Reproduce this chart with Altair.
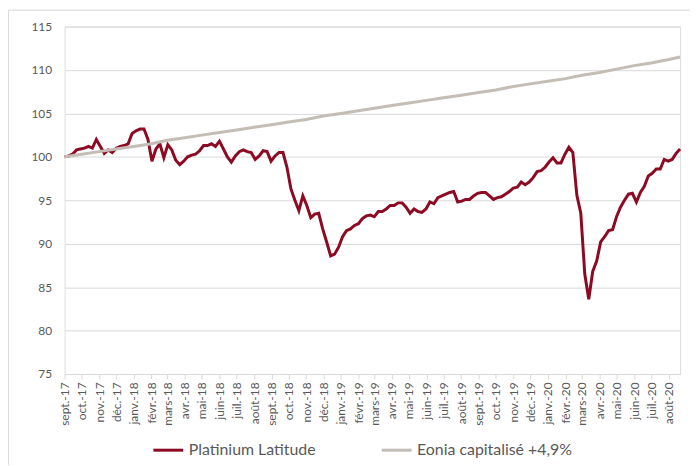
import altair as alt
import pandas as pd

# ---- data ----
platinium_start = "2017-09-01"   # weekly observations
platinium_values = [
    100.0, 100.1, 100.3, 100.8, 100.9, 101.0, 101.2, 101.0, 102.0, 101.2,
    100.4, 100.8, 100.5, 101.0, 101.2, 101.3, 101.5, 102.7, 103.0, 103.2,
    103.2, 102.0, 99.5, 100.9, 101.5, 99.9, 101.4, 100.8, 99.6, 99.1,
    99.5, 100.0, 100.2, 100.3, 100.7, 101.3, 101.3, 101.5, 101.2, 101.8,
    100.9, 100.0, 99.4, 100.1, 100.6, 100.8, 100.6, 100.5, 99.7, 100.1,
    100.7, 100.6, 99.5, 100.1, 100.5, 100.5, 98.8, 96.3, 95.0, 93.8,
    95.5, 94.4, 93.0, 93.4, 93.5, 91.7, 90.2, 88.6, 88.8, 89.6,
    90.8, 91.5, 91.7, 92.1, 92.3, 92.9, 93.2, 93.3, 93.1, 93.7,
    93.7, 94.0, 94.4, 94.4, 94.7, 94.7, 94.2, 93.5, 94.0, 93.7,
    93.6, 94.0, 94.8, 94.6, 95.3, 95.5, 95.7, 95.9, 96.0, 94.8,
    94.9, 95.1, 95.1, 95.5, 95.8, 95.9, 95.9, 95.5, 95.1, 95.3,
    95.4, 95.7, 96.0, 96.4, 96.5, 97.1, 96.8, 97.1, 97.6, 98.3,
    98.4, 98.8, 99.4, 99.9, 99.3, 99.3, 100.3, 101.1, 100.5, 95.6,
    93.5, 86.5, 83.6, 86.8, 88.0, 90.2, 90.8, 91.5, 91.6, 93.1,
    94.2, 95.0, 95.7, 95.8, 94.8, 95.9, 96.6, 97.8, 98.1, 98.6,
    98.6, 99.7, 99.5, 99.7, 100.4, 100.9,
]

eonia_dates = [d.strftime("%Y-%m-%d") for d in pd.date_range("2017-09-01", "2020-08-01", freq="MS")] + ["2020-08-21"]
eonia_values = [
    100.0, 100.3, 100.6, 100.9, 101.2, 101.5, 101.9, 102.2, 102.5, 102.8,
    103.1, 103.4, 103.7, 104.0, 104.3, 104.7, 105.0, 105.3, 105.6, 105.9,
    106.2, 106.5, 106.8, 107.1, 107.4, 107.7, 108.1, 108.4, 108.7, 109.0,
    109.4, 109.7, 110.1, 110.5, 110.8, 111.2, 111.5,
]

series_names = ["Platinium Latitude", "Eonia capitalisé +4,9%"]
series_colors = ["#8C0B22", "#C3BDB6"]
month_labels = ["janv.", "févr.", "mars", "avr.", "mai", "juin",
                "juil.", "août", "sept.", "oct.", "nov.", "déc."]
y_ticks = [75, 80, 85, 90, 95, 100, 105, 110, 115]

# ---- tables ----
plat_dates = pd.date_range(platinium_start, periods=len(platinium_values), freq="7D")
df_plat = pd.DataFrame({"date": plat_dates, "value": platinium_values, "series": series_names[0]})
df_eonia = pd.DataFrame({"date": pd.to_datetime(eonia_dates), "value": eonia_values, "series": series_names[1]})

FONT = "Lato"
GRID = "#D9D9D9"
TXT = "#595959"

label_expr = ("[" + ",".join("'" + m + "'" for m in month_labels) + "][month(datum.value)]"
              " + '-' + timeFormat(datum.value, '%y')")

x_enc = alt.X(
    "date:T",
    scale=alt.Scale(domain=[plat_dates[0].strftime("%Y-%m-%d"), plat_dates[-1].strftime("%Y-%m-%d")], nice=False),
    axis=alt.Axis(
        title=None,
        tickCount=alt.TimeIntervalStep(interval="month", step=1),
        labelExpr=label_expr,
        labelAngle=-90,
        labelFlush=False,
        labelOverlap=False,
        labelBound=False,
        grid=False,
        domainColor=GRID,
        tickColor=GRID,
        tickSize=5,
        labelPadding=3,
        labelFontSize=12,
        labelColor=TXT,
        labelFont=FONT,
    ),
)
y_enc = alt.Y(
    "value:Q",
    scale=alt.Scale(domain=[75, 115], nice=False, zero=False),
    axis=alt.Axis(
        title=None,
        values=y_ticks,
        domain=False,
        ticks=False,
        gridColor=GRID,
        labelPadding=13,
        labelFontSize=12,
        labelColor=TXT,
        labelFont=FONT,
    ),
)
color_enc = alt.Color(
    "series:N",
    scale=alt.Scale(domain=series_names, range=series_colors),
    legend=alt.Legend(
        title=None,
        orient="none",
        direction="horizontal",
        legendX=88,
        legendY=410,
        symbolType="stroke",
        symbolSize=900,
        symbolStrokeWidth=3,
        labelFontSize=16,
        labelFont=FONT,
        labelColor=TXT,
        labelOffset=4,
        columnPadding=60,
        labelLimit=300,
    ),
)

frame = alt.Chart(alt.Data(values=[{"f": 1}])).mark_rect(
    fill="transparent", stroke=GRID, strokeWidth=1
).encode(
    x=alt.value(-56.5), x2=alt.value(700), y=alt.value(-16.5), y2=alt.value(500)
)

plat = alt.Chart(df_plat).mark_line(strokeWidth=3).encode(x=x_enc, y=y_enc, color=color_enc)
eonia = alt.Chart(df_eonia).mark_line(strokeWidth=3).encode(x=x_enc, y=y_enc, color=color_enc)

chart = alt.layer(frame, plat, eonia).properties(
    width=620,
    height=350,
    autosize=alt.AutoSizeParams(type="none"),
    padding={"left": 57, "top": 17, "right": 10, "bottom": 90},
).configure_view(strokeWidth=0).configure(font=FONT)

chart.save("out.html", embed_options={"renderer": "svg", "actions": False})
